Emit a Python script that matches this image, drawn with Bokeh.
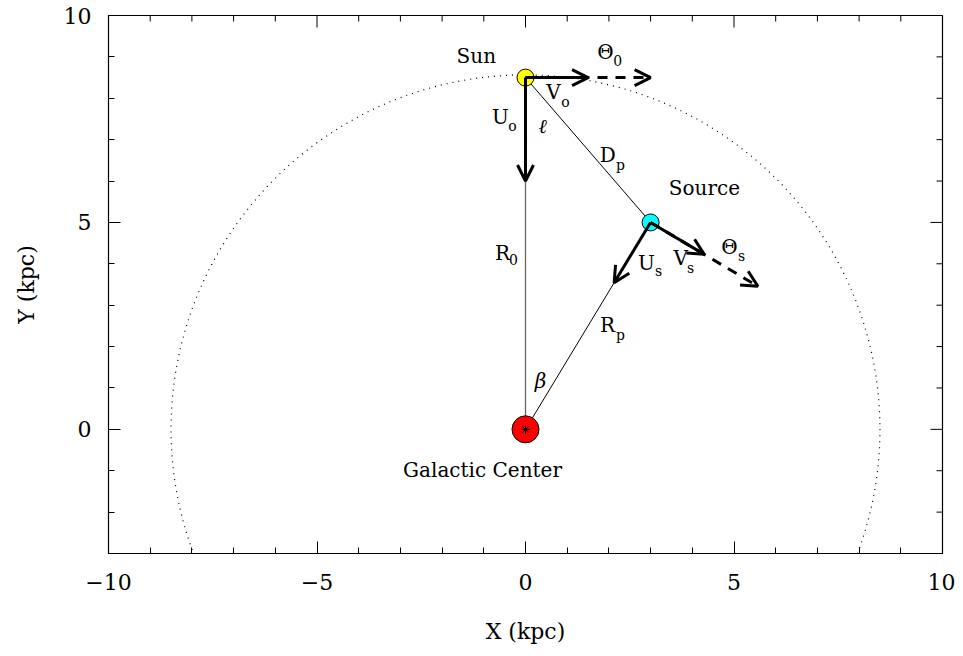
import numpy as np
from bokeh.plotting import figure
from bokeh.models import Arrow, OpenHead, Range1d, FixedTicker
from bokeh.embed import file_html
from bokeh.resources import INLINE
from bokeh.core.properties import value

# ---- data ----
R0 = 8.5
sun_xy = [0.0, 8.5]
source_xy = [3.0, 5.0]
gc_xy = [0.0, 0.0]
U0_len = 2.5
V0_len = 1.5
Theta0_len = 3.0
Us_len = 1.7
Vs_len = 1.5
Thetas_len = 3.0

x_major = [-10, -5, 0, 5, 10]
y_major = [0, 5, 10]
x_minor = list(range(-10, 11))
y_minor = list(range(-3, 11))

# labels (main text, subscript)
lab_main_text = ["Sun", "Θ", "V", "U", "D", "Source", "U", "V", "Θ", "R", "R", "Galactic Center"]
lab_main_x = [-1.18, 1.92, 0.67, -0.60, 1.97, 4.29, 2.90, 3.72, 4.89, -0.55, 1.97, -1.03]
lab_main_y = [9.03, 9.13, 8.14, 7.54, 6.62, 5.82, 4.03, 4.13, 4.40, 4.25, 2.51, -0.99]
lab_sub_text = ["0", "o", "o", "p", "s", "s", "s", "0", "p"]
lab_sub_x = [2.21, 0.96, -0.31, 2.28, 3.19, 3.96, 5.18, -0.29, 2.28]
lab_sub_y = [8.91, 7.92, 7.32, 6.38, 3.82, 3.91, 4.20, 4.11, 2.29]
greek_text = ["ℓ", "β"]
greek_x = [0.41, 0.36]
greek_y = [7.34, 1.18]

FONT = "DejaVu Serif"
XR = (-10, 10)
YR = (-3, 10)
FW, FH = 834, 538

p = figure(frame_width=FW, frame_height=FH, x_range=Range1d(*XR), y_range=Range1d(*YR),
           output_backend="svg", toolbar_location=None,
           min_border_left=108, min_border_right=13, min_border_top=15, min_border_bottom=60)
p.grid.visible = False
p.outline_line_color = "black"
p.outline_line_width = 1.2
p.background_fill_color = "white"

for ax, ticks, minor in ((p.xaxis[0], x_major, x_minor), (p.yaxis[0], y_major, y_minor)):
    ax.ticker = FixedTicker(ticks=ticks, minor_ticks=minor)
    ax.major_tick_in = 12
    ax.major_tick_out = 0
    ax.minor_tick_in = 6
    ax.minor_tick_out = 0
    ax.axis_line_color = "black"
    ax.major_tick_line_color = "black"
    ax.minor_tick_line_color = "black"
    ax.major_label_text_font = FONT
    ax.axis_label_text_font = FONT
    ax.axis_label_text_font_style = "normal"
    ax.major_label_text_color = "black"
    ax.axis_label_text_color = "black"
    ax.major_label_text_font_size = "22px"
    ax.axis_label_text_font_size = "22px"

xa = p.xaxis[0]
ya = p.yaxis[0]
xa.axis_label = "X (kpc)"
ya.axis_label = "Y (kpc)"
xa.major_label_overrides = {-10: "−10", -5: "−5"}
xa.major_label_standoff = 20
ya.major_label_standoff = 17
xa.axis_label_standoff = 26
ya.axis_label_standoff = 22
ya.major_label_orientation = "horizontal"

# mirror ticks on top and right edges (inward)
ux = (XR[1] - XR[0]) / FW   # data units per pixel, x
uy = (YR[1] - YR[0]) / FH   # data units per pixel, y
top_ticks_x = x_minor
top_len = [12 * uy if t in x_major else 6 * uy for t in top_ticks_x]
p.segment(x0=top_ticks_x, y0=[YR[1]] * len(top_ticks_x), x1=top_ticks_x,
          y1=[YR[1] - l for l in top_len], line_color="black", line_width=1)
right_ticks_y = y_minor
right_len = [12 * ux if t in y_major else 6 * ux for t in right_ticks_y]
p.segment(x0=[XR[1]] * len(right_ticks_y), y0=right_ticks_y,
          x1=[XR[1] - l for l in right_len], y1=right_ticks_y, line_color="black", line_width=1)

# dotted solar circle
p.circle(x=[gc_xy[0]], y=[gc_xy[1]], radius=R0, fill_color=None, line_color="black",
         line_dash="1 5", line_width=1.2)

# geometry lines
p.line([sun_xy[0], gc_xy[0]], [sun_xy[1], gc_xy[1]], line_color="#666666", line_width=1.3)
p.line([sun_xy[0], source_xy[0]], [sun_xy[1], source_xy[1]], line_color="black", line_width=1)
p.line([source_xy[0], gc_xy[0]], [source_xy[1], gc_xy[1]], line_color="black", line_width=1)

def unit(a, b):
    d = np.array(b, float) - np.array(a, float)
    return d / np.hypot(*d)

def rot_dir(pt):
    r = unit(gc_xy, pt)
    return np.array([r[1], -r[0]])   # clockwise galactic rotation

def arrow(start, direction, length, dashed=False):
    end = np.array(start) + direction * length
    a = Arrow(end=OpenHead(size=16, line_width=3, line_color="black"),
              x_start=start[0], y_start=start[1], x_end=float(end[0]), y_end=float(end[1]),
              line_width=3, line_color="black", line_dash="10 8" if dashed else "solid")
    p.add_layout(a)

sun_to_gc = unit(sun_xy, gc_xy)
sun_rot = rot_dir(sun_xy)
src_to_gc = unit(source_xy, gc_xy)
src_rot = rot_dir(source_xy)

arrow(sun_xy, sun_to_gc, U0_len)
arrow(sun_xy, sun_rot, V0_len)
arrow(sun_xy, sun_rot, Theta0_len, dashed=True)
arrow(source_xy, src_to_gc, Us_len)
arrow(source_xy, src_rot, Vs_len)
arrow(source_xy, src_rot, Thetas_len, dashed=True)

# bodies
p.scatter([gc_xy[0]], [gc_xy[1]], size=27, fill_color="red", line_color="black", line_width=1)
p.scatter([gc_xy[0]], [gc_xy[1]], marker="asterisk", size=9, line_color="black", line_width=1)
p.scatter([sun_xy[0]], [sun_xy[1]], size=17, fill_color="yellow", line_color="black", line_width=1)
p.scatter([source_xy[0]], [source_xy[1]], size=17, fill_color="cyan", line_color="black", line_width=1)

# labels
p.text(x=lab_main_x, y=lab_main_y, text=lab_main_text, text_font=value(FONT),
       text_font_size="20px", text_align="center", text_baseline="middle", text_color="black")
p.text(x=lab_sub_x, y=lab_sub_y, text=lab_sub_text, text_font=value(FONT),
       text_font_size="14px", text_align="center", text_baseline="middle", text_color="black")
p.text(x=greek_x, y=greek_y, text=greek_text, text_font=value(FONT),
       text_font_size="20px", text_font_style="italic", text_align="center", text_baseline="middle",
       text_color="black")

open("out.html", "w").write(file_html(p, INLINE))
